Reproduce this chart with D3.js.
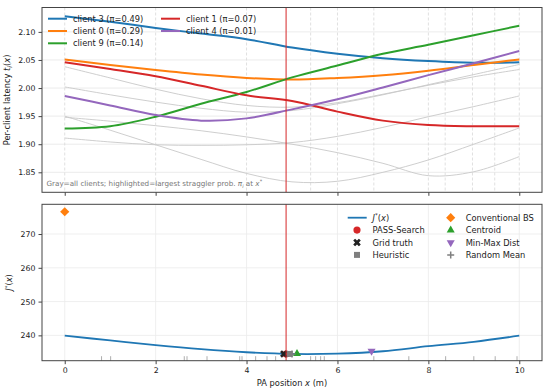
<!DOCTYPE html>
<html>
<head>
<meta charset="utf-8">
<script src="https://cdn.jsdelivr.net/npm/d3@7"></script>
<style>
  body { margin: 0; background: #fff; }
  svg { font-family: "DejaVu Sans", sans-serif; }
</style>
</head>
<body>
<div id="chart"></div>
<script>
// sample positions along the PA track (m)
const xSamples = [0, 1, 2, 3, 4, 5, 6, 7, 8, 9, 10];
const xTicks = [0, 2, 4, 6, 8, 10];
const yTicksTop = [1.85, 1.90, 1.95, 2.00, 2.05, 2.10];
const yTicksBottom = [240, 250, 260, 270];

// per-client latency curves, background (gray) clients
const grayClients = [
    [2.038, 2.018, 1.998, 1.981, 1.969, 1.966, 1.974, 1.989, 2.005, 2.020, 2.033],
    [2.002, 1.988, 1.975, 1.964, 1.957, 1.960, 1.972, 1.988, 2.006, 2.024, 2.042],
    [1.911, 1.904, 1.899, 1.898, 1.899, 1.903, 1.914, 1.930, 1.949, 1.967, 1.986],
    [1.950, 1.925, 1.899, 1.873, 1.848, 1.833, 1.834, 1.850, 1.872, 1.900, 1.929],
    [1.948, 1.941, 1.933, 1.924, 1.913, 1.900, 1.885, 1.866, 1.844, 1.851, 1.878]
];

// highlighted clients (largest straggler probability at x*)
const clientNames = ["client 3", "client 0", "client 9", "client 1", "client 4"];
const clientPi = [0.49, 0.29, 0.14, 0.07, 0.01];
const clientColors = ["#1f77b4", "#ff7f0e", "#2ca02c", "#d62728", "#9467bd"];
const clientLatency = [
    [2.128, 2.118, 2.107, 2.097, 2.087, 2.072, 2.061, 2.053, 2.048, 2.045, 2.046],
    [2.051, 2.041, 2.032, 2.024, 2.018, 2.015, 2.018, 2.023, 2.031, 2.041, 2.051],
    [1.928, 1.932, 1.949, 1.972, 1.993, 2.019, 2.040, 2.061, 2.077, 2.094, 2.111],
    [2.046, 2.034, 2.021, 2.004, 1.987, 1.977, 1.958, 1.942, 1.934, 1.932, 1.932],
    [1.986, 1.969, 1.952, 1.942, 1.946, 1.962, 1.980, 2.001, 2.023, 2.044, 2.066]
];

// extra dashed markers in the upper panel
const dashedX = [0, 2, 4, 5.41, 6, 6.8, 8, 8.37, 8.97, 9.46, 10];

// optimal objective J*(x)
const jStar = [239.9, 238.5, 237.1, 235.9, 235.0, 234.5, 234.6, 235.3, 236.8, 238.1, 239.9];

// rug of evaluated positions
const rugX = [0.81, 1.01, 2.63, 2.69, 3.13, 3.85, 3.90, 4.20, 4.45, 4.64, 5.41, 5.52, 5.63, 5.71,
              6.80, 7.57, 8.38, 9.00, 9.47, 9.95];

const xStar = 4.87;

// baseline methods
const methodNames = ["PASS-Search", "Grid truth", "Heuristic", "Conventional BS", "Centroid", "Min-Max Dist", "Random Mean"];
const methodX = [4.87, 4.82, 4.95, 0.0, 5.11, 6.75, 5.00];
const methodJ = [234.5, 234.5, 234.5, 276.6, 234.6, 235.35, 234.5];

const width = 550, height = 392;
const left = 42, right = 542;
const topPanel = { top: 7.5, bottom: 192.3 };
const botPanel = { top: 204.3, bottom: 360.7 };

const svg = d3.select("#chart")
              .append("svg")
              .attr("width", width)
              .attr("height", height);

const xScale = d3.scaleLinear().domain([-0.5, 10.5]).range([left, right]);
const yTop = d3.scaleLinear().domain([1.8144, 2.1434]).range([topPanel.bottom, topPanel.top]);
const yBot = d3.scaleLinear().domain([232.5, 278.8]).range([botPanel.bottom, botPanel.top]);

const spine = "#444";
const tickFont = "7.8px";
const labelFont = "8.3px";

// ---------- upper panel ----------
const topG = svg.append("g");

topG.selectAll(".hgrid")
    .data(yTicksTop)
    .join("line")
    .attr("x1", left).attr("x2", right)
    .attr("y1", d => yTop(d)).attr("y2", d => yTop(d))
    .attr("stroke", "#e6e6e6")
    .attr("stroke-width", 0.8);

topG.selectAll(".vdash")
    .data(dashedX)
    .join("line")
    .attr("x1", d => xScale(d)).attr("x2", d => xScale(d))
    .attr("y1", topPanel.top).attr("y2", topPanel.bottom)
    .attr("stroke", "#d8d8d8")
    .attr("stroke-width", 0.8)
    .attr("stroke-dasharray", "3,2");

const lineTop = d3.line()
                  .x((d, i) => xScale(xSamples[i]))
                  .y(d => yTop(d))
                  .curve(d3.curveCatmullRom.alpha(0.5));

topG.selectAll(".gray")
    .data(grayClients)
    .join("path")
    .attr("d", d => lineTop(d))
    .attr("fill", "none")
    .attr("stroke", "#c8c8c8")
    .attr("stroke-width", 0.9);

topG.selectAll(".hl")
    .data(clientLatency)
    .join("path")
    .attr("d", d => lineTop(d))
    .attr("fill", "none")
    .attr("stroke", (d, i) => clientColors[i])
    .attr("stroke-width", 2);

// note at the bottom of the upper panel
const note = topG.append("text")
                 .attr("x", 46.5)
                 .attr("y", 186)
                 .attr("fill", "#777")
                 .style("font-size", "7.2px");
note.append("tspan").text("Gray=all clients; highlighted=largest straggler prob. ");
note.append("tspan").style("font-style", "italic").text("π");
note.append("tspan").attr("dy", 1.5).style("font-size", "5px").style("font-style", "italic").text("i");
note.append("tspan").attr("dy", -1.5).text(" at ");
note.append("tspan").style("font-style", "italic").text("x");
note.append("tspan").attr("dy", -3).style("font-size", "5px").text("*");

// legend (upper)
const legTop = topG.append("g");
const legCols = [[0, 1, 2], [3, 4]];
legCols.forEach((col, c) => {
    const x0 = c === 0 ? 48 : 161;
    col.forEach((idx, r) => {
        const y0 = 18.7 + r * 12.3;
        legTop.append("line")
              .attr("x1", x0).attr("x2", x0 + 19)
              .attr("y1", y0).attr("y2", y0)
              .attr("stroke", clientColors[idx])
              .attr("stroke-width", 2);
        legTop.append("text")
              .attr("x", x0 + 25)
              .attr("y", y0)
              .attr("dominant-baseline", "central")
              .style("font-size", labelFont)
              .attr("fill", "#222")
              .text(`${clientNames[idx]} (π=${clientPi[idx].toFixed(2)})`);
    });
});

// ---------- lower panel ----------
const botG = svg.append("g");

botG.selectAll(".hgrid")
    .data(yTicksBottom)
    .join("line")
    .attr("x1", left).attr("x2", right)
    .attr("y1", d => yBot(d)).attr("y2", d => yBot(d))
    .attr("stroke", "#ebebeb")
    .attr("stroke-width", 0.8);

botG.selectAll(".vgrid")
    .data(xTicks)
    .join("line")
    .attr("x1", d => xScale(d)).attr("x2", d => xScale(d))
    .attr("y1", botPanel.top).attr("y2", botPanel.bottom)
    .attr("stroke", "#ebebeb")
    .attr("stroke-width", 0.8);

botG.selectAll(".rug")
    .data(rugX)
    .join("line")
    .attr("x1", d => xScale(d)).attr("x2", d => xScale(d))
    .attr("y1", botPanel.bottom - 4.5).attr("y2", botPanel.bottom)
    .attr("stroke", "#999")
    .attr("stroke-width", 0.8);

const lineBot = d3.line()
                  .x((d, i) => xScale(xSamples[i]))
                  .y(d => yBot(d))
                  .curve(d3.curveCatmullRom.alpha(0.5));

botG.append("path")
    .attr("d", lineBot(jStar))
    .attr("fill", "none")
    .attr("stroke", "#1f77b4")
    .attr("stroke-width", 1.8);

// marker styles for each method
const markerStyle = [
    { type: d3.symbolCircle, size: 40, fill: "#d62728", rot: 0 },
    { type: d3.symbolCross, size: 36, fill: "#222", rot: 45 },
    { type: d3.symbolSquare, size: 36, fill: "#7f7f7f", rot: 0 },
    { type: d3.symbolSquare, size: 42, fill: "#ff7f0e", rot: 45 },
    { type: d3.symbolTriangle, size: 28, fill: "#2ca02c", rot: 0 },
    { type: d3.symbolTriangle, size: 28, fill: "#9467bd", rot: 180 },
    { type: "plus", size: 0, fill: "#7f7f7f", rot: 0 }
];

const drawMarker = (g, i, cx, cy) => {
    const m = markerStyle[i];
    if (m.type === "plus") {
        g.append("path")
         .attr("d", `M${cx - 3.5},${cy}H${cx + 3.5}M${cx},${cy - 3.5}V${cy + 3.5}`)
         .attr("stroke", m.fill)
         .attr("stroke-width", 1.5)
         .attr("fill", "none");
        return;
    }
    g.append("path")
     .attr("d", d3.symbol().type(m.type).size(m.size)())
     .attr("transform", `translate(${cx},${cy}) rotate(${m.rot})`)
     .attr("fill", m.fill);
};

methodNames.forEach((name, i) => {
    drawMarker(botG, i, xScale(methodX[i]), yBot(methodJ[i]));
});

// legend (lower)
const legBot = botG.append("g");
const legRowsY = [217.7, 230.1, 242.5, 254.9];
legBot.append("line")
      .attr("x1", 347.7).attr("x2", 366.7)
      .attr("y1", legRowsY[0]).attr("y2", legRowsY[0])
      .attr("stroke", "#1f77b4")
      .attr("stroke-width", 1.8);
const jLab = legBot.append("text")
                   .attr("x", 372.5)
                   .attr("y", legRowsY[0])
                   .attr("dominant-baseline", "central")
                   .style("font-size", labelFont)
                   .attr("fill", "#222");
jLab.append("tspan").style("font-style", "italic").text("J");
jLab.append("tspan").attr("dy", -3).style("font-size", "5.5px").text("*");
jLab.append("tspan").attr("dy", 3).text("(");
jLab.append("tspan").style("font-style", "italic").text("x");
jLab.append("tspan").text(")");

methodNames.forEach((name, i) => {
    const col = i < 3 ? 0 : 1;
    const row = i < 3 ? i + 1 : i - 3;
    const mx = col === 0 ? 357 : 450.7;
    const tx = col === 0 ? 372.5 : 465.7;
    drawMarker(legBot, i, mx, legRowsY[row]);
    legBot.append("text")
          .attr("x", tx)
          .attr("y", legRowsY[row])
          .attr("dominant-baseline", "central")
          .style("font-size", labelFont)
          .attr("fill", "#222")
          .text(name);
});

// ---------- x* line through both panels ----------
[topPanel, botPanel].forEach(p => {
    svg.append("line")
       .attr("x1", xScale(xStar)).attr("x2", xScale(xStar))
       .attr("y1", p.top).attr("y2", p.bottom)
       .attr("stroke", "#d62728")
       .attr("stroke-width", 1.1)
       .attr("opacity", 0.9);
});

// ---------- axes & spines ----------
const styleAxis = (g, showLabels) => {
    g.selectAll(".domain").remove();
    g.selectAll(".tick line").attr("stroke", spine);
    g.selectAll(".tick text")
     .attr("fill", "#222")
     .style("font-size", tickFont)
     .style("font-family", "DejaVu Sans, sans-serif");
    if (!showLabels) g.selectAll(".tick text").remove();
};

svg.append("g")
   .attr("transform", `translate(0, ${topPanel.bottom})`)
   .call(d3.axisBottom(xScale).tickValues(xTicks).tickSize(3.5))
   .call(g => styleAxis(g, false));

svg.append("g")
   .attr("transform", `translate(${left}, 0)`)
   .call(d3.axisLeft(yTop).tickValues(yTicksTop).tickFormat(d3.format(".2f")).tickSize(3.5).tickPadding(3))
   .call(g => styleAxis(g, true));

svg.append("g")
   .attr("transform", `translate(0, ${botPanel.bottom})`)
   .call(d3.axisBottom(xScale).tickValues(xTicks).tickSize(3.5).tickPadding(3))
   .call(g => styleAxis(g, true));

svg.append("g")
   .attr("transform", `translate(${left}, 0)`)
   .call(d3.axisLeft(yBot).tickValues(yTicksBottom).tickSize(3.5).tickPadding(3))
   .call(g => styleAxis(g, true));

[topPanel, botPanel].forEach(p => {
    svg.append("rect")
       .attr("x", left).attr("y", p.top)
       .attr("width", right - left).attr("height", p.bottom - p.top)
       .attr("fill", "none")
       .attr("stroke", spine)
       .attr("stroke-width", 1);
});

// axis labels
const yLabTop = svg.append("text")
                   .attr("transform", `translate(10, ${(topPanel.top + topPanel.bottom) / 2}) rotate(-90)`)
                   .attr("text-anchor", "middle")
                   .style("font-size", labelFont)
                   .attr("fill", "#222");
yLabTop.append("tspan").text("Per-client latency ");
yLabTop.append("tspan").style("font-style", "italic").text("t");
yLabTop.append("tspan").attr("dy", 1.5).style("font-size", "6px").style("font-style", "italic").text("i");
yLabTop.append("tspan").attr("dy", -1.5).text("(");
yLabTop.append("tspan").style("font-style", "italic").text("x");
yLabTop.append("tspan").text(")");

const yLabBot = svg.append("text")
                   .attr("transform", `translate(12, ${(botPanel.top + botPanel.bottom) / 2}) rotate(-90)`)
                   .attr("text-anchor", "middle")
                   .style("font-size", labelFont)
                   .attr("fill", "#222");
yLabBot.append("tspan").style("font-style", "italic").text("J");
yLabBot.append("tspan").attr("dy", -3).style("font-size", "5.5px").text("*");
yLabBot.append("tspan").attr("dy", 3).text("(");
yLabBot.append("tspan").style("font-style", "italic").text("x");
yLabBot.append("tspan").text(")");

const xLab = svg.append("text")
                .attr("x", (left + right) / 2)
                .attr("y", 385.5)
                .attr("text-anchor", "middle")
                .style("font-size", labelFont)
                .attr("fill", "#222");
xLab.append("tspan").text("PA position ");
xLab.append("tspan").style("font-style", "italic").text("x");
xLab.append("tspan").text(" (m)");
</script>
</body>
</html>
